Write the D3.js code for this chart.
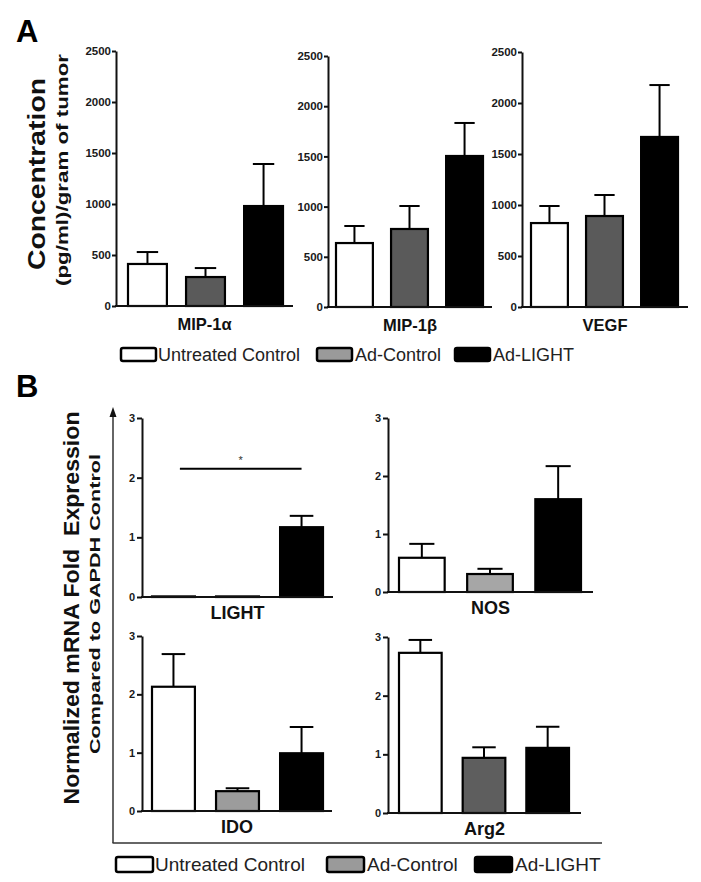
<!DOCTYPE html>
<html>
<head>
<meta charset="utf-8">
<script src="https://cdn.jsdelivr.net/npm/d3@7/dist/d3.min.js"></script>
<style>
  html, body { margin: 0; padding: 0; background: #fff; }
  svg { display: block; }
  text { font-family: "Liberation Sans", Arial, Helvetica, sans-serif; }
</style>
</head>
<body>
<svg id="chart" width="701" height="882"></svg>
<script>
// ---------------- DATA ----------------
const groups = ["Untreated Control", "Ad-Control", "Ad-LIGHT"];

// Panel A (pg/ml per gram of tumor)
const catsA = ["MIP-1α", "MIP-1β", "VEGF"];
const meansA = [
  [412, 284, 980],
  [637, 777, 1504],
  [823, 892, 1667]
];
const errTopA = [
  [529, 372, 1392],
  [807, 1006, 1833],
  [990, 1098, 2176]
];
const ticksA = [0, 500, 1000, 1500, 2000, 2500];

// Panel B (normalized mRNA fold expression)
const catsB = ["LIGHT", "NOS", "IDO", "Arg2"];
const meansB = [
  [0.01, 0.01, 1.17],
  [0.59, 0.31, 1.60],
  [2.13, 0.34, 0.99],
  [2.73, 0.94, 1.11]
];
const errTopB = [
  [0.01, 0.01, 1.36],
  [0.83, 0.40, 2.17],
  [2.69, 0.39, 1.44],
  [2.95, 1.12, 1.47]
];
const ticksB = [0, 1, 2, 3];
const sigB = { cat: "LIGHT", from: 0, to: 2, level: 2.15, label: "*" };

// ---------------- LAYOUT / STYLE ----------------
const layoutA = [
  { axisX: 116, xEnd: 293, yTop: 51, y0: 306, b0: 128, b1: 283 },
  { axisX: 328, xEnd: 492, yTop: 56, y0: 307, b0: 336, b1: 483 },
  { axisX: 522, xEnd: 688, yTop: 52, y0: 307, b0: 531, b1: 678 }
];
const layoutB = [
  { axisX: 142, xEnd: 333, yTop: 418, y0: 597, b0: 152, b1: 323 },
  { axisX: 388, xEnd: 593, yTop: 418, y0: 592, b0: 399, b1: 581 },
  { axisX: 142, xEnd: 332, yTop: 636, y0: 811, b0: 152, b1: 323 },
  { axisX: 388, xEnd: 581, yTop: 637, y0: 813, b0: 399, b1: 569 }
];
const fillsA = ["#ffffff", "#5a5a5a", "#000000"];
const grayB = ["#a0a0a0", "#a6a6a6", "#9c9c9c", "#5e5e5e"];

const svg = d3.select("#chart");
const FONT = '"Liberation Sans", Arial, Helvetica, sans-serif';

function drawChart(L, cat, means, errs, ticks, maxV, fills, st) {
  const g = svg.append("g");
  const y = d3.scaleLinear().domain([0, maxV]).range([L.y0, L.yTop]);
  const x = d3.scaleBand().domain(groups).range([L.b0, L.b1]).paddingInner(0.33).paddingOuter(0);
  const bw = x.bandwidth();

  // y axis
  const ax = g.append("g")
    .attr("transform", `translate(${L.axisX},0)`)
    .call(d3.axisLeft(y).tickValues(ticks).tickFormat(d3.format("d"))
      .tickSize(st.tickSize).tickSizeOuter(0).tickPadding(st.tickPad));
  ax.attr("font-family", FONT);
  ax.select(".domain").attr("stroke", "#111").attr("stroke-width", 2);
  ax.selectAll(".tick line").attr("stroke", "#111").attr("stroke-width", 2);
  ax.selectAll(".tick text")
    .attr("font-family", FONT)
    .attr("font-size", st.tickFont).attr("font-weight", "bold").attr("fill", "#1a1a1a");

  // bars
  const rows = groups.map((gr, i) => ({ gr, i, m: means[i], e: errs[i] }));
  g.selectAll("rect.bar").data(rows).enter().append("rect")
    .attr("class", "bar")
    .attr("x", d => x(d.gr))
    .attr("width", bw)
    .attr("y", d => y(d.m))
    .attr("height", d => L.y0 - y(d.m))
    .attr("fill", d => fills[d.i])
    .attr("stroke", "#000").attr("stroke-width", 2.2);

  // error bars
  const cap = bw * 0.55;
  rows.forEach(d => {
    if (d.e <= d.m + 1e-9) return;
    const cx = x(d.gr) + bw / 2;
    g.append("line").attr("x1", cx).attr("x2", cx).attr("y1", y(d.m)).attr("y2", y(d.e))
      .attr("stroke", "#000").attr("stroke-width", 2);
    g.append("line").attr("x1", cx - cap / 2).attr("x2", cx + cap / 2).attr("y1", y(d.e)).attr("y2", y(d.e))
      .attr("stroke", "#000").attr("stroke-width", 2);
  });

  // x axis baseline
  g.append("line").attr("x1", L.axisX - 1).attr("x2", L.xEnd).attr("y1", L.y0).attr("y2", L.y0)
    .attr("stroke", "#111").attr("stroke-width", 2);

  // category label
  g.append("text")
    .attr("x", (L.axisX + L.xEnd) / 2)
    .attr("y", L.y0 + st.labelDy)
    .attr("text-anchor", "middle")
    .attr("font-size", st.labelFont).attr("font-weight", "bold").attr("fill", "#111")
    .text(cat);

  return { x, y, bw, g };
}

// ---------- Panel A ----------
svg.append("text").attr("x", 16).attr("y", 42).attr("font-size", 31).attr("font-weight", "bold").text("A");

catsA.forEach((c, k) => {
  drawChart(layoutA[k], c, meansA[k], errTopA[k], ticksA, 2500, fillsA,
    { tickSize: 4, tickPad: 1, tickFont: 11.5, labelFont: 16.5, labelDy: 24 });
});

// Y title A
svg.append("text")
  .attr("transform", "translate(45,174) rotate(-90)")
  .attr("text-anchor", "middle").attr("font-size", 24).attr("font-weight", "bold").attr("fill", "#111")
  .attr("textLength", 192).attr("lengthAdjust", "spacingAndGlyphs")
  .text("Concentration");
svg.append("text")
  .attr("transform", "translate(68,170) rotate(-90)")
  .attr("text-anchor", "middle").attr("font-size", 17).attr("font-weight", "bold").attr("fill", "#111")
  .attr("textLength", 232).attr("lengthAdjust", "spacingAndGlyphs")
  .text("(pg/ml)/gram of tumor");

// Legend A
const legA = { boxX: [121, 317, 455], textX: [158, 355, 493], boxY: 348, boxW: 35, boxH: 13, base: 361, font: 18,
  fills: ["#ffffff", "#9a9a9a", "#000000"] };
groups.forEach((gr, i) => {
  svg.append("rect").attr("x", legA.boxX[i]).attr("y", legA.boxY).attr("width", legA.boxW).attr("height", legA.boxH)
    .attr("rx", 2).attr("fill", legA.fills[i]).attr("stroke", "#000").attr("stroke-width", 2.5);
  svg.append("text").attr("x", legA.textX[i]).attr("y", legA.base).attr("font-size", legA.font).attr("fill", "#222").text(gr);
});

// ---------- Panel B ----------
svg.append("text").attr("x", 16).attr("y", 397).attr("font-size", 31).attr("font-weight", "bold").text("B");

// frame axis with arrow
svg.append("line").attr("x1", 113).attr("x2", 113).attr("y1", 415).attr("y2", 843)
  .attr("stroke", "#333").attr("stroke-width", 1.5);
svg.append("line").attr("x1", 112.5).attr("x2", 602).attr("y1", 843).attr("y2", 843)
  .attr("stroke", "#333").attr("stroke-width", 1.5);
svg.append("path").attr("d", "M113,407 L109.5,417 L116.5,417 Z").attr("fill", "#111");

catsB.forEach((c, k) => {
  const r = drawChart(layoutB[k], c, meansB[k], errTopB[k], ticksB, 3, ["#ffffff", grayB[k], "#000000"],
    { tickSize: 5, tickPad: 2, tickFont: 11, labelFont: 18, labelDy: 22 });
  if (c === sigB.cat) {
    const x1 = r.x(groups[sigB.from]) + r.bw * 0.65;
    const x2 = r.x(groups[sigB.to]) + r.bw * 0.5;
    const yy = r.y(sigB.level);
    r.g.append("line").attr("x1", x1).attr("x2", x2).attr("y1", yy).attr("y2", yy)
      .attr("stroke", "#000").attr("stroke-width", 2);
    r.g.append("text").attr("x", (x1 + x2) / 2).attr("y", yy - 5).attr("text-anchor", "middle")
      .attr("font-size", 11).attr("fill", "#333").text(sigB.label);
  }
});

// Y title B
svg.append("text")
  .attr("transform", "translate(79,608) rotate(-90)")
  .attr("text-anchor", "middle").attr("font-size", 22).attr("font-weight", "bold").attr("fill", "#111")
  .style("white-space", "pre")
  .attr("textLength", 393).attr("lengthAdjust", "spacingAndGlyphs")
  .text("Normalized mRNA Fold  Expression");
svg.append("text")
  .attr("transform", "translate(100,604) rotate(-90)")
  .attr("text-anchor", "middle").attr("font-size", 14.5).attr("font-weight", "bold").attr("fill", "#111")
  .attr("textLength", 300).attr("lengthAdjust", "spacingAndGlyphs")
  .text("Compared to GAPDH Control");

// Legend B
const legB = { boxX: [116, 327, 475], textX: [155, 367, 515], boxY: 857, boxW: 37, boxH: 15, base: 871, font: 19,
  fills: ["#ffffff", "#9a9a9a", "#000000"] };
groups.forEach((gr, i) => {
  svg.append("rect").attr("x", legB.boxX[i]).attr("y", legB.boxY).attr("width", legB.boxW).attr("height", legB.boxH)
    .attr("rx", 2).attr("fill", legB.fills[i]).attr("stroke", "#000").attr("stroke-width", 2.5);
  svg.append("text").attr("x", legB.textX[i]).attr("y", legB.base).attr("font-size", legB.font).attr("fill", "#222").text(gr);
});
</script>
</body>
</html>
